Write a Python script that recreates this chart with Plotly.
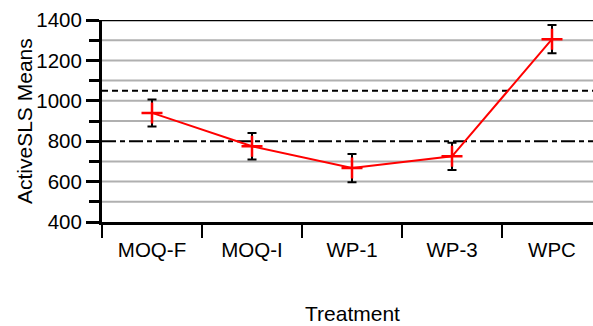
import plotly.graph_objects as go

treatments = ["MOQ-F", "MOQ-I", "WP-1", "WP-3", "WPC"]
means = [940, 775, 667, 725, 1305]
errors = [67, 66, 70, 67, 70]
upper_limit = 1050
center_line = 800
y_ticks = [400, 600, 800, 1000, 1200, 1400]
grid_values = [500, 600, 700, 900, 1000, 1100, 1200, 1300]

FONT = "Liberation Sans, Arial, sans-serif"

fig = go.Figure()
fig.add_trace(go.Scatter(
    x=treatments, y=means,
    mode="lines+markers",
    line=dict(color="#ff0000", width=2),
    marker=dict(symbol="cross-thin", size=15, line=dict(color="#ff0000", width=2.5)),
    error_y=dict(type="data", array=errors, visible=True, color="black", thickness=2, width=4.5),
    showlegend=False,
))

fig.add_shape(type="line", xref="paper", x0=0, x1=1, yref="y", y0=upper_limit, y1=upper_limit,
              line=dict(color="black", width=2, dash="6px,4px"), layer="between")
fig.add_shape(type="line", xref="paper", x0=0, x1=1, yref="y", y0=center_line, y1=center_line,
              line=dict(color="black", width=2, dash="14px,4px,5px,4px"), layer="between")
fig.add_shape(type="line", xref="paper", x0=0, x1=1, yref="y", y0=1400, y1=1400,
              line=dict(color="black", width=2.5), layer="above")

fig.update_layout(
    width=593, height=326,
    margin=dict(l=102, r=0, t=20, b=104),
    plot_bgcolor="white", paper_bgcolor="white",
    font=dict(family=FONT, size=20, color="black"),
    xaxis=dict(
        type="category", range=[-0.5, 4.41],
        showline=True, linecolor="black", linewidth=3,
        ticks="outside", tickson="boundaries", ticklen=13, tickwidth=2, tickcolor="black",
        showgrid=False, zeroline=False,
        tickfont=dict(size=20.5), ticklabelstandoff=7,
    ),
    yaxis=dict(
        range=[400, 1400], tickvals=y_ticks,
        showline=True, linecolor="black", linewidth=3,
        ticks="outside", ticklen=13, tickwidth=2.5, tickcolor="black",
        showgrid=False,
        minor=dict(tickvals=grid_values + [800], ticks="outside", ticklen=10, tickwidth=2.5,
                   tickcolor="black", showgrid=False),
        zeroline=False,
        tickfont=dict(size=20.5),
    ),
    annotations=[
        dict(text="Treatment", xref="x", x=2, yref="paper", y=0, yanchor="middle",
             yshift=-91, showarrow=False, font=dict(size=21)),
        dict(text="ActiveSLS Means", xref="paper", x=0, xanchor="center", xshift=-78,
             yref="paper", y=0.5, textangle=-90, showarrow=False, font=dict(size=21)),
    ],
)

# gray gridlines (skipping the centre-line value, which carries the dash-dot line)
for g in grid_values:
    fig.add_shape(type="line", xref="paper", x0=0, x1=1, yref="y", y0=g, y1=g,
                  line=dict(color="#b0b0b0", width=2), layer="below")

fig.write_html("out.html")
